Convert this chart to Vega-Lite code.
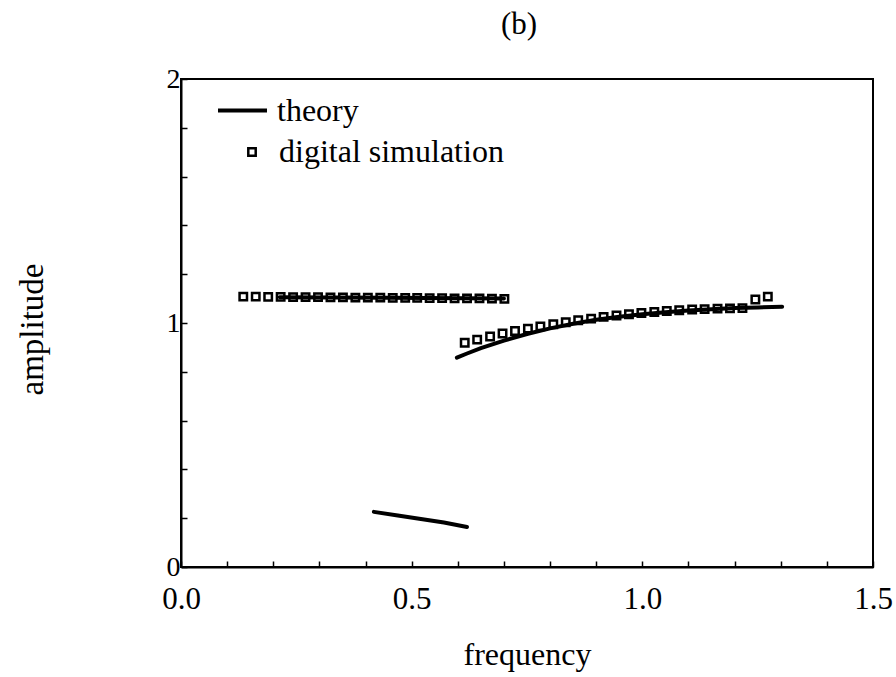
{
  "$schema": "https://vega.github.io/schema/vega-lite/v6.json",
  "width": 692,
  "height": 488,
  "autosize": {"type": "none"},
  "padding": {"left": 181, "top": 79, "right": 23, "bottom": 110},
  "background": "white",
  "config": {
    "view": {"stroke": "black", "strokeWidth": 2},
    "font": "Liberation Serif"
  },
  "title": {
    "text": "(b)",
    "font": "Liberation Serif",
    "fontSize": 31,
    "fontWeight": "normal",
    "color": "black",
    "anchor": "middle",
    "dx": -8,
    "offset": 24
  },
  "datasets": {
    "theory": [
      {"frequency": 0.214, "amplitude": 1.106, "branch": "upper", "curve": "theory"},
      {"frequency": 0.45, "amplitude": 1.103, "branch": "upper", "curve": "theory"},
      {"frequency": 0.70, "amplitude": 1.100, "branch": "upper", "curve": "theory"},
      {"frequency": 0.418, "amplitude": 0.226, "branch": "bottom", "curve": "theory"},
      {"frequency": 0.47, "amplitude": 0.211, "branch": "bottom", "curve": "theory"},
      {"frequency": 0.52, "amplitude": 0.197, "branch": "bottom", "curve": "theory"},
      {"frequency": 0.57, "amplitude": 0.182, "branch": "bottom", "curve": "theory"},
      {"frequency": 0.62, "amplitude": 0.164, "branch": "bottom", "curve": "theory"},
      {"frequency": 0.598, "amplitude": 0.858, "branch": "lower", "curve": "theory"},
      {"frequency": 0.62, "amplitude": 0.875, "branch": "lower", "curve": "theory"},
      {"frequency": 0.65, "amplitude": 0.897, "branch": "lower", "curve": "theory"},
      {"frequency": 0.70, "amplitude": 0.928, "branch": "lower", "curve": "theory"},
      {"frequency": 0.75, "amplitude": 0.955, "branch": "lower", "curve": "theory"},
      {"frequency": 0.80, "amplitude": 0.978, "branch": "lower", "curve": "theory"},
      {"frequency": 0.85, "amplitude": 0.997, "branch": "lower", "curve": "theory"},
      {"frequency": 0.90, "amplitude": 1.013, "branch": "lower", "curve": "theory"},
      {"frequency": 0.95, "amplitude": 1.026, "branch": "lower", "curve": "theory"},
      {"frequency": 1.00, "amplitude": 1.036, "branch": "lower", "curve": "theory"},
      {"frequency": 1.05, "amplitude": 1.044, "branch": "lower", "curve": "theory"},
      {"frequency": 1.10, "amplitude": 1.051, "branch": "lower", "curve": "theory"},
      {"frequency": 1.15, "amplitude": 1.056, "branch": "lower", "curve": "theory"},
      {"frequency": 1.20, "amplitude": 1.061, "branch": "lower", "curve": "theory"},
      {"frequency": 1.25, "amplitude": 1.064, "branch": "lower", "curve": "theory"},
      {"frequency": 1.303, "amplitude": 1.067, "branch": "lower", "curve": "theory"}
    ],
    "simulation": [
      {"frequency": 0.135, "amplitude": 1.108, "kind": "digital simulation"},
      {"frequency": 0.162, "amplitude": 1.108, "kind": "digital simulation"},
      {"frequency": 0.189, "amplitude": 1.107, "kind": "digital simulation"},
      {"frequency": 0.216, "amplitude": 1.107, "kind": "digital simulation"},
      {"frequency": 0.243, "amplitude": 1.106, "kind": "digital simulation"},
      {"frequency": 0.270, "amplitude": 1.106, "kind": "digital simulation"},
      {"frequency": 0.297, "amplitude": 1.106, "kind": "digital simulation"},
      {"frequency": 0.324, "amplitude": 1.105, "kind": "digital simulation"},
      {"frequency": 0.351, "amplitude": 1.105, "kind": "digital simulation"},
      {"frequency": 0.378, "amplitude": 1.104, "kind": "digital simulation"},
      {"frequency": 0.405, "amplitude": 1.104, "kind": "digital simulation"},
      {"frequency": 0.432, "amplitude": 1.104, "kind": "digital simulation"},
      {"frequency": 0.459, "amplitude": 1.103, "kind": "digital simulation"},
      {"frequency": 0.486, "amplitude": 1.103, "kind": "digital simulation"},
      {"frequency": 0.512, "amplitude": 1.103, "kind": "digital simulation"},
      {"frequency": 0.539, "amplitude": 1.102, "kind": "digital simulation"},
      {"frequency": 0.566, "amplitude": 1.102, "kind": "digital simulation"},
      {"frequency": 0.593, "amplitude": 1.101, "kind": "digital simulation"},
      {"frequency": 0.620, "amplitude": 1.101, "kind": "digital simulation"},
      {"frequency": 0.647, "amplitude": 1.101, "kind": "digital simulation"},
      {"frequency": 0.674, "amplitude": 1.100, "kind": "digital simulation"},
      {"frequency": 0.701, "amplitude": 1.099, "kind": "digital simulation"},
      {"frequency": 0.615, "amplitude": 0.919, "kind": "digital simulation"},
      {"frequency": 0.642, "amplitude": 0.932, "kind": "digital simulation"},
      {"frequency": 0.670, "amplitude": 0.945, "kind": "digital simulation"},
      {"frequency": 0.697, "amplitude": 0.957, "kind": "digital simulation"},
      {"frequency": 0.724, "amplitude": 0.967, "kind": "digital simulation"},
      {"frequency": 0.752, "amplitude": 0.977, "kind": "digital simulation"},
      {"frequency": 0.779, "amplitude": 0.986, "kind": "digital simulation"},
      {"frequency": 0.807, "amplitude": 0.995, "kind": "digital simulation"},
      {"frequency": 0.834, "amplitude": 1.003, "kind": "digital simulation"},
      {"frequency": 0.861, "amplitude": 1.011, "kind": "digital simulation"},
      {"frequency": 0.889, "amplitude": 1.018, "kind": "digital simulation"},
      {"frequency": 0.916, "amplitude": 1.025, "kind": "digital simulation"},
      {"frequency": 0.944, "amplitude": 1.031, "kind": "digital simulation"},
      {"frequency": 0.971, "amplitude": 1.036, "kind": "digital simulation"},
      {"frequency": 0.998, "amplitude": 1.041, "kind": "digital simulation"},
      {"frequency": 1.026, "amplitude": 1.045, "kind": "digital simulation"},
      {"frequency": 1.053, "amplitude": 1.049, "kind": "digital simulation"},
      {"frequency": 1.080, "amplitude": 1.052, "kind": "digital simulation"},
      {"frequency": 1.108, "amplitude": 1.055, "kind": "digital simulation"},
      {"frequency": 1.135, "amplitude": 1.057, "kind": "digital simulation"},
      {"frequency": 1.163, "amplitude": 1.059, "kind": "digital simulation"},
      {"frequency": 1.190, "amplitude": 1.060, "kind": "digital simulation"},
      {"frequency": 1.217, "amplitude": 1.061, "kind": "digital simulation"},
      {"frequency": 1.245, "amplitude": 1.096, "kind": "digital simulation"},
      {"frequency": 1.272, "amplitude": 1.108, "kind": "digital simulation"}
    ]
  },
  "encoding": {
    "x": {
      "field": "frequency",
      "type": "quantitative",
      "scale": {"domain": [0, 1.5], "nice": false, "zero": false},
      "axis": {
        "title": "frequency",
        "values": [0, 0.1, 0.2, 0.3, 0.4, 0.5, 0.6, 0.7, 0.8, 0.9, 1.0, 1.1, 1.2, 1.3, 1.4, 1.5],
        "labelExpr": "abs(datum.value * 2 - round(datum.value * 2)) < 0.01 ? format(datum.value, '.1f') : ''",
        "labelOverlap": false,
        "labelFlush": false,
        "grid": false,
        "tickSize": -6,
        "tickWidth": 1.5,
        "tickColor": "black",
        "domainColor": "black",
        "domainWidth": 2,
        "labelFont": "Liberation Serif",
        "labelFontSize": 31,
        "labelColor": "black",
        "labelPadding": 23,
        "titleFont": "Liberation Serif",
        "titleFontSize": 32,
        "titleFontWeight": "normal",
        "titleColor": "black",
        "titleBaseline": "alphabetic",
        "titleY": 97
      }
    },
    "y": {
      "field": "amplitude",
      "type": "quantitative",
      "scale": {"domain": [0, 2], "nice": false, "zero": false},
      "axis": {
        "title": "amplitude",
        "values": [0, 0.2, 0.4, 0.6, 0.8, 1.0, 1.2, 1.4, 1.6, 1.8, 2.0],
        "labelExpr": "abs(datum.value - round(datum.value)) < 0.001 ? format(datum.value, 'd') : ''",
        "labelOverlap": false,
        "labelFlush": false,
        "grid": false,
        "tickSize": -6,
        "tickWidth": 1.5,
        "tickColor": "black",
        "domainColor": "black",
        "domainWidth": 2,
        "labelFont": "Liberation Serif",
        "labelFontSize": 28,
        "labelColor": "black",
        "labelPadding": 7,
        "labelBaseline": "middle",
        "titleFont": "Liberation Serif",
        "titleFontSize": 33,
        "titleFontWeight": "normal",
        "titleColor": "black",
        "titleBaseline": "middle",
        "titleX": -149,
        "titleY": 250
      }
    }
  },
  "layer": [
    {
      "data": {"name": "theory"},
      "mark": {"type": "line", "strokeWidth": 4, "strokeCap": "round"},
      "encoding": {
        "detail": {"field": "branch", "type": "nominal"},
        "color": {
          "field": "curve",
          "type": "nominal",
          "scale": {"domain": ["theory"], "range": ["black"]},
          "legend": {
            "title": null,
            "orient": "none",
            "legendX": 35,
            "legendY": 5,
            "padding": 0,
            "symbolType": "stroke",
            "symbolSize": 2400,
            "symbolStrokeWidth": 4,
            "labelFont": "Liberation Serif",
            "labelFontSize": 32,
            "labelColor": "black",
            "labelOffset": 8,
            "labelLimit": 500
          }
        }
      }
    },
    {
      "data": {"name": "simulation"},
      "mark": {"type": "point", "filled": false, "color": "black", "strokeWidth": 2.5, "size": 55, "opacity": 1},
      "encoding": {
        "shape": {
          "field": "kind",
          "type": "nominal",
          "scale": {"domain": ["digital simulation"], "range": ["square"]},
          "legend": {
            "title": null,
            "orient": "none",
            "legendX": 55,
            "legendY": 57,
            "padding": 0,
            "symbolSize": 55,
            "symbolStrokeWidth": 2.5,
            "symbolStrokeColor": "black",
            "labelFont": "Liberation Serif",
            "labelFontSize": 32,
            "labelColor": "black",
            "labelOffset": 11,
            "labelLimit": 500
          }
        }
      }
    }
  ]
}
